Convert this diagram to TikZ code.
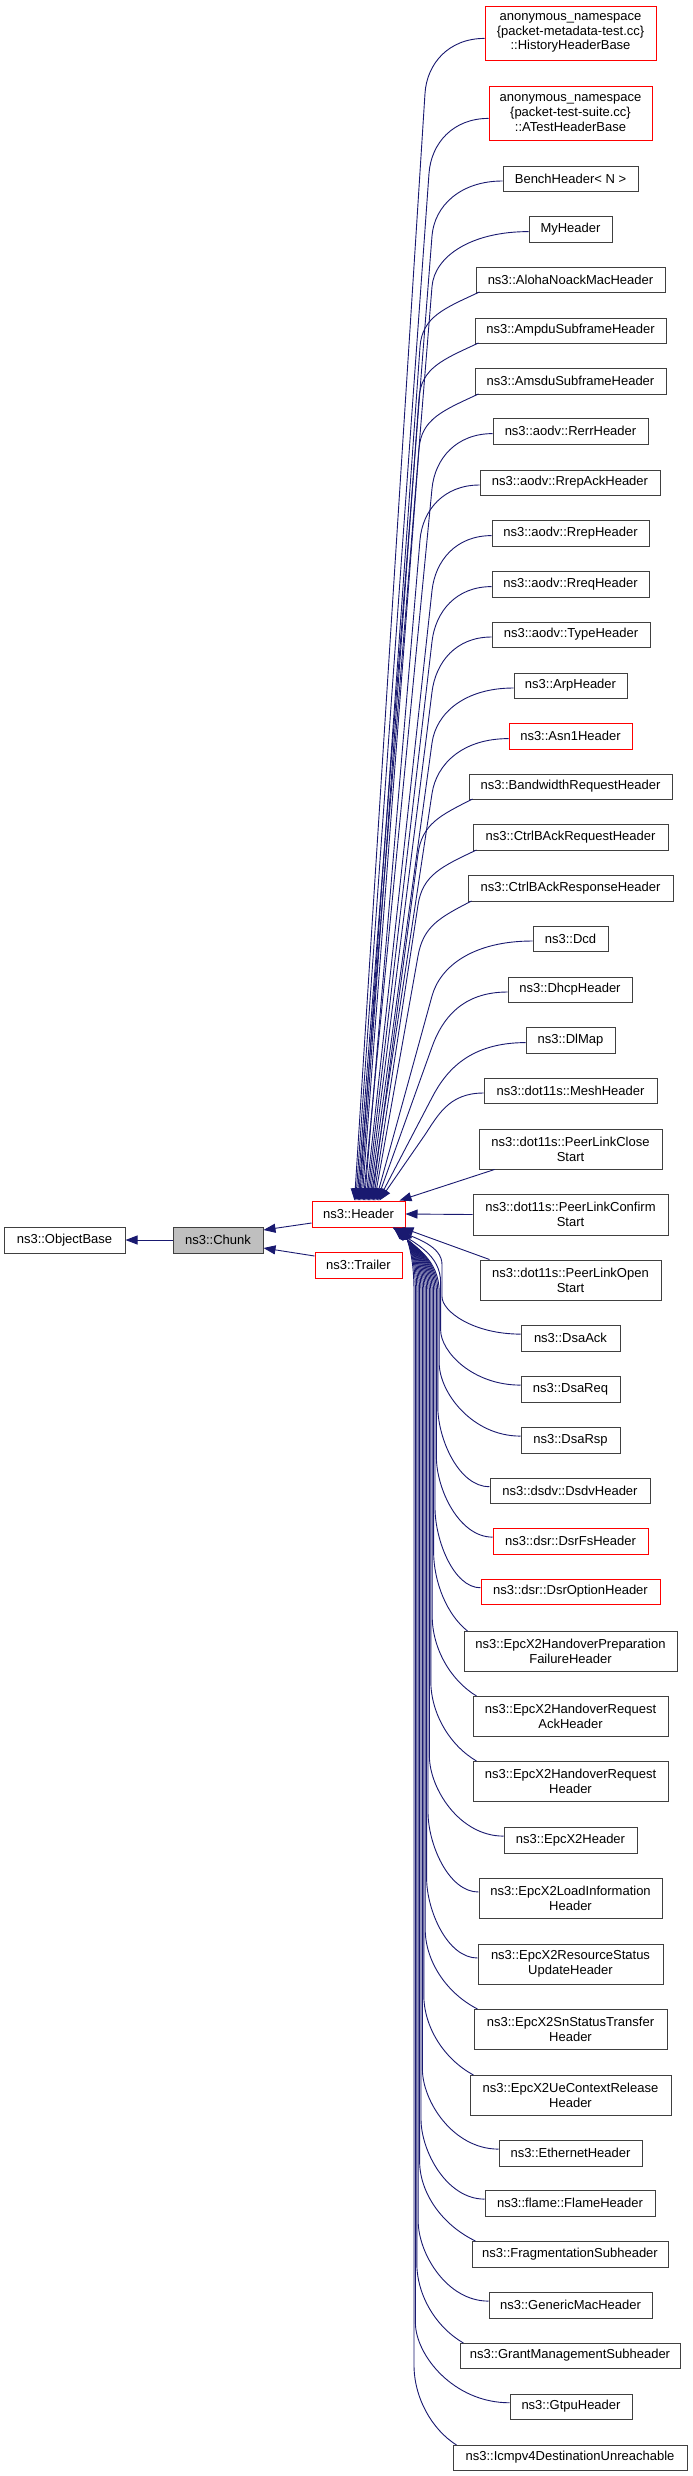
\documentclass[tikz,border=0pt]{standalone}
\usepackage{fontspec}
\setmainfont{Liberation Sans}
\usetikzlibrary{arrows.meta,calc}
\definecolor{edgeblue}{HTML}{191970}
\definecolor{boxgray}{HTML}{404040}
\definecolor{chunkfill}{HTML}{BFBFBF}
\tikzset{
  cls/.style={draw=boxgray, line width=1pt, fill=white, inner sep=0pt, align=center, font=\fontsize{13}{14.7}\selectfont},
  redcls/.style={cls, draw=red},
  curcls/.style={cls, fill=chunkfill},
  edge/.style={draw=edgeblue, line width=0.9pt, -{Triangle[length=12pt,width=9pt]}},
}
% box: name, x1, y1, x2, y2, style, text
\newcommand\bx[7]{%
  \node[#6, minimum width={(#4-#2)*1pt}, minimum height={(#5-#3)*1pt}] (#1) at ({(#2+#4)/2},{(#3+#5)/2}) {#7};%
}
% child above header: name,x1,y1,x2,y2,style,text,ex
\newcommand\childup[8]{%
  \bx{#1}{#2}{#3}{#4}{#5}{#6}{#7}%
  \pgfmathsetmacro\eyc{(#3+#5)/2}%
  \pgfmathsetmacro\ehh{#5-#3}%
  \ifdim #2pt<478pt
    \pgfmathsetmacro\esx{#2+4}\pgfmathsetmacro\esy{#5}%
    \pgfmathsetmacro\esox{4}\pgfmathsetmacro\esoy{-0.5*\ehh}%
    \def\ecfac{0.3}%
  \else
    \pgfmathsetmacro\esx{#2}\pgfmathsetmacro\esy{\eyc+0.1*\ehh}%
    \pgfmathsetmacro\esox{0}\pgfmathsetmacro\esoy{-0.1*\ehh}%
    \def\ecfac{0}%
  \fi
  \pgfmathsetmacro\eD{1201-\esy}%
  \pgfmathsetmacro\er{min(55,0.4*\eD)}%
  \pgfmathsetmacro\etx{max(min(\esx-60,432),418)}%
  \pgfmathsetmacro\ety{\esy+\er}%
  \pgfmathsetmacro\edx{(#8-\etx)/100}%
  \pgfmathsetmacro\edy{(1201-\ety)/100}%
  \pgfmathsetmacro\elen{veclen(\edx,\edy)}%
  \pgfmathsetmacro\eux{\edx/\elen}%
  \pgfmathsetmacro\euy{\edy/\elen}%
  \pgfmathsetmacro\ecbx{\etx-0.55*\er*\eux}%
  \pgfmathsetmacro\ecby{\ety-0.55*\er*\euy}%
  \pgfmathsetmacro\ecax{\esx-0.6*(\esx-\etx)}%
  \pgfmathsetmacro\ecay{\esy+\ecfac*\er}%
  \pgfmathsetmacro\eex{#8-312}%
  \draw[edge] ([xshift=\esox pt,yshift=\esoy pt]#1.west) .. controls (\ecax,\ecay) and (\ecbx,\ecby) .. (\etx,\ety) -- ([xshift=\eex pt]hdr.north west);%
}
% child below header: name,x1,y1,x2,y2,style,text,ex,vx
\newcommand\childdown[9]{%
  \bx{#1}{#2}{#3}{#4}{#5}{#6}{#7}%
  \pgfmathsetmacro\eyc{(#3+#5)/2}%
  \pgfmathsetmacro\ehh{#5-#3}%
  \ifdim #2pt<478pt
    \pgfmathsetmacro\esx{#2+4}\pgfmathsetmacro\esy{#3}%
    \pgfmathsetmacro\esox{4}\pgfmathsetmacro\esoy{0.5*\ehh}%
    \def\ecfac{0.2}%
  \else
    \pgfmathsetmacro\esx{#2}\pgfmathsetmacro\esy{\eyc-0.15*\ehh}%
    \pgfmathsetmacro\esox{0}\pgfmathsetmacro\esoy{0.15*\ehh}%
    \def\ecfac{0}%
  \fi
  \pgfmathsetmacro\eD{\esy-1227}%
  \pgfmathsetmacro\er{min(80,0.35*\eD)}%
  \pgfmathsetmacro\eq{min(65,0.35*\eD)}%
  \pgfmathsetmacro\ejy{1227+\eq}%
  \pgfmathsetmacro\ety{\esy-\er}%
  \pgfmathsetmacro\ecax{\esx-0.6*(\esx-#9)}%
  \pgfmathsetmacro\ecay{\esy-\ecfac*\er}%
  \pgfmathsetmacro\ecby{\esy-0.6*\er}%
  \pgfmathsetmacro\edy{1227+0.5*\eq}%
  \pgfmathsetmacro\eex{#8+0.45*(#9-#8)}%
  \pgfmathsetmacro\eey{1227+0.3*\eq}%
  \pgfmathsetmacro\eshift{#8-312}%
  \draw[edge] ([xshift=\esox pt,yshift=\esoy pt]#1.west) .. controls (\ecax,\ecay) and (#9,\ecby) .. (#9,\ety) -- (#9,\ejy) .. controls (#9,\edy) and (\eex,\eey) .. ([xshift=\eshift pt]hdr.south west);%
}
\begin{document}
\begin{tikzpicture}[x=1pt,y=-1pt]
\useasboundingbox (0,0) rectangle (693,2476);
\fill[white] (0,0) rectangle (693,2476);
% main chain
\bx{ob}{4}{1227}{125}{1253}{cls}{ns3::ObjectBase}
\bx{chunk}{173}{1227}{263}{1253}{curcls}{ns3::Chunk}
\bx{hdr}{312}{1201}{405}{1227}{redcls}{ns3::Header}
\bx{trl}{315}{1252}{402}{1278}{redcls}{ns3::Trailer}
\draw[edge] (chunk.west) -- (ob.east);
\draw[edge] ([yshift=-9pt]hdr.west) -- ([yshift=10pt]chunk.east);
\draw[edge] ([yshift=9pt]trl.west) -- ([yshift=-8pt]chunk.east);
% children above
\childup{c1}{485}{6}{656}{60}{redcls}{anonymous\_namespace\\\{packet-metadata-test.cc\}\\::HistoryHeaderBase}{355}
\childup{c2}{489}{86}{652}{140}{redcls}{anonymous\_namespace\\\{packet-test-suite.cc\}\\::ATestHeaderBase}{356.25}
\childup{c3}{503}{166}{638}{191}{cls}{BenchHeader\textless{} N \textgreater{}}{357.5}
\childup{c4}{529}{216}{612}{242}{cls}{MyHeader}{358.75}
\childup{c5}{476}{267}{665}{292}{cls}{ns3::AlohaNoackMacHeader}{360}
\childup{c6}{475}{318}{666}{343}{cls}{ns3::AmpduSubframeHeader}{361.25}
\childup{c7}{475}{368}{666}{394}{cls}{ns3::AmsduSubframeHeader}{362.5}
\childup{c8}{493}{418}{648}{444}{cls}{ns3::aodv::RerrHeader}{363.75}
\childup{c9}{480}{470}{660}{495}{cls}{ns3::aodv::RrepAckHeader}{365}
\childup{c10}{492}{520}{649}{546}{cls}{ns3::aodv::RrepHeader}{366.25}
\childup{c11}{492}{571}{649}{597}{cls}{ns3::aodv::RreqHeader}{367.5}
\childup{c12}{492}{622}{650}{647}{cls}{ns3::aodv::TypeHeader}{368.75}
\childup{c13}{514}{673}{627}{698}{cls}{ns3::ArpHeader}{370}
\childup{c14}{509}{723}{632}{749}{redcls}{ns3::Asn1Header}{371.25}
\childup{c15}{469}{774}{672}{799}{cls}{ns3::BandwidthRequestHeader}{372.5}
\childup{c16}{473}{824}{668}{850}{cls}{ns3::CtrlBAckRequestHeader}{373.75}
\childup{c17}{468}{875}{673}{901}{cls}{ns3::CtrlBAckResponseHeader}{375}
\childup{c18}{533}{926}{608}{951}{cls}{ns3::Dcd}{376.25}
\childup{c19}{508}{977}{632}{1002}{cls}{ns3::DhcpHeader}{377.5}
\childup{c20}{526}{1027}{615}{1053}{cls}{ns3::DlMap}{378.75}
\childup{c21}{484}{1078}{657}{1103}{cls}{ns3::dot11s::MeshHeader}{380}
% near children
\bx{c22}{479}{1129}{662}{1169}{cls}{ns3::dot11s::PeerLinkClose\\Start}
\bx{c23}{473}{1194}{668}{1235}{cls}{ns3::dot11s::PeerLinkConfirm\\Start}
\bx{c24}{480}{1260}{661}{1300}{cls}{ns3::dot11s::PeerLinkOpen\\Start}
\draw[edge] ([xshift=16pt]c22.south west) -- ([xshift=88pt]hdr.north west);
\draw[edge] (c23.west) -- (hdr.east);
\draw[edge] ([xshift=10pt]c24.north west) -- ([xshift=90pt]hdr.south west);
% children below
\childdown{c25}{521}{1325}{620}{1351}{cls}{ns3::DsaAck}{393}{442}
\childdown{c26}{521}{1376}{620}{1402}{cls}{ns3::DsaReq}{393.6}{440.6}
\childdown{c27}{521}{1427}{620}{1453}{cls}{ns3::DsaRsp}{394.2}{439.2}
\childdown{c28}{490}{1478}{650}{1503}{cls}{ns3::dsdv::DsdvHeader}{394.8}{437.8}
\childdown{c29}{493}{1528}{648}{1554}{redcls}{ns3::dsr::DsrFsHeader}{395.4}{436.4}
\childdown{c30}{481}{1579}{660}{1604}{redcls}{ns3::dsr::DsrOptionHeader}{396}{435}
\childdown{c31}{464}{1631}{677}{1671}{cls}{ns3::EpcX2HandoverPreparation\\FailureHeader}{396.6}{433.6}
\childdown{c32}{473}{1696}{668}{1736}{cls}{ns3::EpcX2HandoverRequest\\AckHeader}{397.2}{432.2}
\childdown{c33}{473}{1761}{668}{1801}{cls}{ns3::EpcX2HandoverRequest\\Header}{397.8}{430.8}
\childdown{c34}{504}{1827}{637}{1853}{cls}{ns3::EpcX2Header}{398.4}{429.4}
\childdown{c35}{479}{1878}{662}{1918}{cls}{ns3::EpcX2LoadInformation\\Header}{399}{428}
\childdown{c36}{478}{1944}{663}{1984}{cls}{ns3::EpcX2ResourceStatus\\UpdateHeader}{399.6}{426.6}
\childdown{c37}{474}{2009}{667}{2049}{cls}{ns3::EpcX2SnStatusTransfer\\Header}{400.2}{425.2}
\childdown{c38}{470}{2075}{671}{2115}{cls}{ns3::EpcX2UeContextRelease\\Header}{400.8}{423.8}
\childdown{c39}{499}{2140}{642}{2166}{cls}{ns3::EthernetHeader}{401.4}{422.4}
\childdown{c40}{485}{2190}{655}{2216}{cls}{ns3::flame::FlameHeader}{402}{421}
\childdown{c41}{472}{2241}{668}{2267}{cls}{ns3::FragmentationSubheader}{402.6}{419.6}
\childdown{c42}{489}{2292}{652}{2318}{cls}{ns3::GenericMacHeader}{403.2}{418.2}
\childdown{c43}{460}{2343}{680}{2368}{cls}{ns3::GrantManagementSubheader}{403.8}{416.8}
\childdown{c44}{510}{2394}{632}{2419}{cls}{ns3::GtpuHeader}{404.4}{415.4}
\childdown{c45}{453}{2445}{687}{2470}{cls}{ns3::Icmpv4DestinationUnreachable}{405}{414}
\end{tikzpicture}
\end{document}
